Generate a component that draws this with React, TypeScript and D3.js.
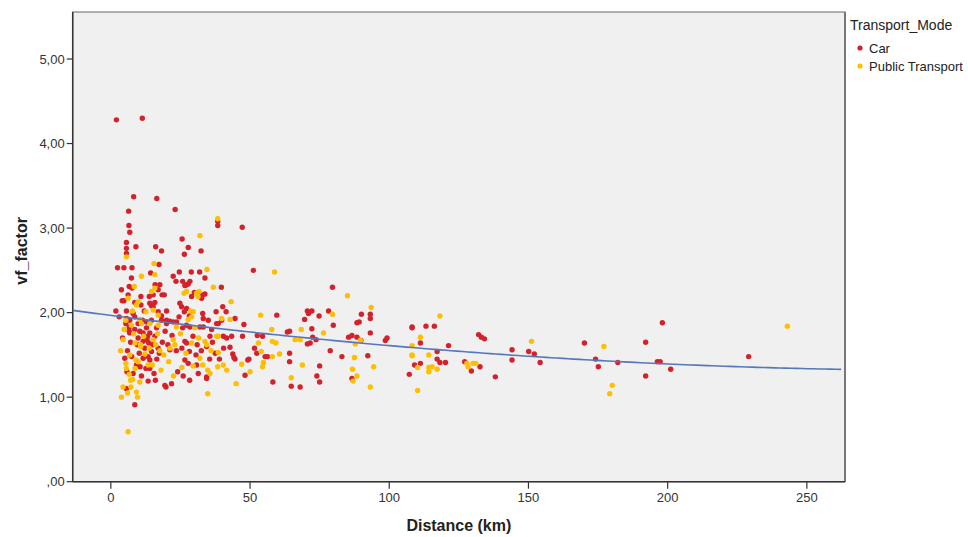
import React from "react";
import * as d3 from "d3";

// Observed trips: [distance in km, vf_factor]
const carPoints: [number, number][] = [
  [2.0, 4.28], [11.3, 4.30], [8.2, 3.37], [16.5, 3.35], [6.4, 3.20], [23.1, 3.22], [6.5, 3.03],
  [38.4, 3.08], [38.4, 3.03], [47.2, 3.01], [6.8, 2.95], [25.6, 2.87], [5.6, 2.83], [9.0, 2.78],
  [16.1, 2.78], [27.8, 2.77], [5.6, 2.76], [18.2, 2.73], [32.4, 2.73], [26.4, 2.69], [5.6, 2.70],
  [17.3, 2.57], [2.4, 2.53], [4.7, 2.53], [7.6, 2.53], [51.2, 2.50], [24.6, 2.48], [28.9, 2.48],
  [31.9, 2.48], [14.3, 2.47], [22.4, 2.43], [33.8, 2.41], [7.4, 2.41],
  [3.8, 2.27], [6.6, 2.31], [7.6, 2.29], [6.2, 2.21], [15.9, 2.33], [17.6, 2.33], [17.0, 2.27],
  [18.4, 2.21], [19.2, 2.21], [15.2, 2.21], [23.4, 2.37], [25.8, 2.37], [27.2, 2.33], [27.8, 2.34],
  [26.6, 2.32], [28.4, 2.37], [29.0, 2.19], [33.0, 2.21], [33.8, 2.22], [30.0, 2.24], [32.6, 2.17],
  [39.7, 2.30], [4.1, 2.14], [4.7, 2.14], [10.8, 2.19], [13.8, 2.19], [8.6, 2.12], [10.8, 2.09],
  [14.0, 2.11], [14.6, 2.08], [15.8, 2.12], [15.2, 2.07], [24.8, 2.11], [25.4, 2.07], [27.2, 2.05],
  [26.4, 2.01], [1.8, 2.02], [5.6, 2.02], [8.0, 1.99], [12.0, 2.02], [17.0, 2.01], [20.0, 2.02],
  [18.2, 1.96], [28.2, 1.96], [33.0, 1.99], [33.2, 1.93], [37.8, 2.01], [41.4, 2.01], [40.2, 2.07],
  [38.0, 1.87], [38.6, 1.87], [39.8, 1.91], [5.6, 1.93], [6.8, 1.91], [8.6, 1.95], [5.4, 1.87],
  [9.8, 1.87], [11.4, 1.91], [14.6, 1.91], [12.8, 1.89], [18.2, 1.91], [20.0, 1.91], [21.2, 1.90],
  [22.4, 1.89], [23.6, 1.89],
  [6.6, 1.83], [8.6, 1.80], [10.4, 1.78], [12.8, 1.82], [6.8, 1.76], [11.6, 1.76], [14.0, 1.76],
  [15.8, 1.72], [16.4, 1.82], [20.0, 1.87], [25.8, 1.82], [27.2, 1.85], [28.4, 1.83], [32.0, 1.83],
  [33.2, 1.83], [35.0, 1.91], [36.2, 1.80],
  [6.6, 1.78], [7.1, 1.65], [9.8, 1.70], [11.6, 1.66], [13.0, 1.68], [13.6, 1.64], [17.0, 1.58],
  [5.0, 1.46], [5.8, 1.30], [8.0, 1.28], [9.2, 1.38], [10.2, 1.52], [11.6, 1.46], [13.4, 1.48],
  [14.0, 1.44], [14.6, 1.54], [12.6, 1.34], [14.0, 1.34], [15.5, 1.28], [13.4, 1.19], [5.6, 1.10],
  [8.6, 0.91], [19.8, 1.12], [21.8, 1.16], [21.2, 1.56], [17.4, 1.52],
  [26.6, 1.66], [27.2, 1.64], [28.2, 1.54], [26.6, 1.44], [27.8, 1.40], [30.8, 1.38], [31.4, 1.28],
  [28.3, 1.20], [30.6, 1.50], [34.4, 1.24], [34.4, 1.22], [34.4, 1.60], [35.6, 1.72], [40.4, 1.72],
  [41.6, 1.70],
  [3.0, 1.95], [4.2, 1.70], [6.0, 1.55], [7.5, 1.48], [9.5, 1.62], [10.5, 1.36], [12.2, 1.58],
  [13.2, 1.72], [15.0, 1.62], [16.5, 1.45], [18.5, 1.65], [19.5, 1.78], [20.5, 1.62], [22.0, 1.73],
  [23.5, 1.55], [24.5, 1.95], [25.5, 1.58], [29.5, 1.72], [31.0, 1.62], [32.5, 1.55], [35.5, 1.45],
  [36.5, 1.65], [37.5, 1.52], [39.0, 1.45], [40.5, 1.58], [19.4, 1.14], [24.0, 1.30], [26.0, 1.25],
  [16.0, 1.20], [11.0, 1.25],
  [79.6, 2.30], [70.6, 2.02], [72.2, 2.02], [71.0, 1.99], [69.6, 1.92], [78.2, 2.02], [74.8, 1.96],
  [59.6, 1.97], [44.6, 1.93], [90.0, 1.98], [93.2, 1.98], [93.2, 1.93], [79.9, 1.85], [88.4, 1.88],
  [89.2, 1.89], [47.8, 1.86], [64.2, 1.78], [63.4, 1.77], [72.2, 1.81], [93.2, 1.76], [108.2, 1.83],
  [108.2, 1.82], [43.4, 1.72], [47.3, 1.72], [52.6, 1.73], [54.5, 1.72], [72.5, 1.71], [73.7, 1.68],
  [70.6, 1.63], [71.6, 1.64], [85.4, 1.71], [86.6, 1.73], [88.4, 1.71], [89.8, 1.67], [98.6, 1.67],
  [99.2, 1.70], [42.8, 1.59], [44.2, 1.47], [44.6, 1.45], [43.8, 1.51], [49.2, 1.44], [49.6, 1.45],
  [48.2, 1.26], [51.6, 1.58], [52.4, 1.52], [55.4, 1.48], [56.3, 1.48], [58.2, 1.18], [64.2, 1.52],
  [64.2, 1.42], [64.8, 1.13], [68.0, 1.12], [78.8, 1.55], [83.0, 1.48], [92.3, 1.49], [75.0, 1.37],
  [74.0, 1.25], [75.0, 1.18], [86.6, 1.22], [107.2, 1.27], [109.1, 1.38],
  [113.2, 1.84], [116.2, 1.84], [111.2, 1.64], [132.1, 1.74], [133.1, 1.71], [134.2, 1.69],
  [121.3, 1.61], [170.1, 1.64], [144.1, 1.56], [150.1, 1.54], [152.1, 1.51], [174.1, 1.45],
  [182.1, 1.41], [117.2, 1.54], [117.2, 1.45], [118.2, 1.41], [120.2, 1.41], [111.2, 1.40],
  [127.1, 1.42], [129.5, 1.31], [132.6, 1.36], [144.1, 1.44], [154.2, 1.41], [138.1, 1.24],
  [175.1, 1.36],
  [198.1, 1.88], [192.1, 1.65], [196.3, 1.42], [197.3, 1.42], [201.1, 1.33], [192.1, 1.25],
  [229.1, 1.48],
];

const publicTransportPoints: [number, number][] = [
  [38.4, 3.11], [32.0, 2.91], [5.6, 2.66], [15.5, 2.58], [34.5, 2.51], [15.8, 2.45], [11.0, 2.43],
  [8.4, 2.31], [15.8, 2.29], [14.6, 2.25], [26.3, 2.23], [27.2, 2.25], [31.7, 2.25], [31.3, 2.19],
  [30.8, 2.23], [36.8, 2.30], [6.2, 2.17], [9.8, 2.13], [9.2, 2.09], [7.8, 2.02], [12.6, 2.01],
  [15.2, 2.03], [17.0, 1.97], [10.4, 1.92], [27.8, 1.92], [28.7, 2.02], [29.6, 2.01], [29.0, 1.95],
  [42.8, 1.92], [39.8, 1.93], [4.8, 1.80], [5.4, 1.91], [7.4, 1.85], [11.0, 1.87], [14.0, 1.87],
  [17.0, 1.85], [23.6, 1.83],
  [4.4, 1.68], [8.7, 1.64], [10.7, 1.62], [15.2, 1.68], [16.1, 1.62], [17.6, 1.55], [5.4, 1.40],
  [5.6, 1.34], [6.6, 1.27], [7.1, 1.20], [7.8, 1.21], [8.7, 1.34], [9.0, 1.44], [9.8, 1.42],
  [10.7, 1.60], [12.2, 1.51], [13.4, 1.38], [14.9, 1.38], [10.4, 1.18], [4.4, 1.12], [3.8, 1.00],
  [9.2, 1.06], [9.6, 1.00], [6.2, 0.59], [21.2, 1.58], [22.4, 1.68],
  [29.0, 1.64], [32.0, 1.46], [29.6, 1.37], [34.8, 1.32], [35.6, 1.28], [34.8, 1.04], [33.8, 1.66],
  [34.4, 1.62], [38.0, 1.72], [38.6, 1.72], [38.6, 1.53], [38.4, 1.36], [40.4, 1.38], [41.6, 1.32],
  [3.5, 1.55], [6.8, 1.50], [8.2, 1.75], [11.8, 1.72], [13.8, 1.58], [16.8, 1.75], [19.0, 1.50],
  [20.8, 1.42], [23.0, 1.62], [25.0, 1.75], [27.0, 1.52], [30.2, 1.82], [31.5, 1.70], [33.0, 1.38],
  [36.0, 1.55], [6.0, 1.05], [7.2, 1.12], [22.5, 1.25], [25.5, 1.35], [18.0, 1.32],
  [58.8, 2.48], [85.0, 2.20], [43.2, 2.13], [93.5, 2.06], [79.6, 1.98], [53.8, 1.97], [57.8, 1.80],
  [68.4, 1.80], [76.4, 1.76], [53.0, 1.64], [58.0, 1.66], [59.3, 1.64], [66.2, 1.68], [68.0, 1.68],
  [87.8, 1.63], [89.6, 1.67], [108.2, 1.61], [54.0, 1.54], [54.8, 1.41], [54.5, 1.36], [50.0, 1.30],
  [47.0, 1.39], [45.0, 1.16], [58.0, 1.48], [60.6, 1.51], [64.8, 1.23], [68.8, 1.38], [87.5, 1.47],
  [94.4, 1.36], [86.8, 1.33], [88.4, 1.25], [87.0, 1.19], [93.2, 1.12], [108.2, 1.50], [108.2, 1.49],
  [110.2, 1.35], [110.2, 1.08],
  [118.2, 1.96], [111.2, 1.71], [151.1, 1.66], [177.1, 1.60], [114.2, 1.50], [114.2, 1.35],
  [115.4, 1.36], [117.2, 1.33], [114.2, 1.30], [127.9, 1.40], [128.3, 1.36], [130.1, 1.40],
  [131.1, 1.40], [180.1, 1.14], [179.2, 1.04],
  [243.0, 1.84],
];

// Quadratic fit line: vf = a + b*d + c*d^2
const FIT_A = 1.967;
const FIT_B = -0.00427;
const FIT_C = 0.000007;

const xTicks = [0, 50, 100, 150, 200, 250];
const yTicks = [0, 1, 2, 3, 4, 5];

const legendTitle = "Transport_Mode";
const legendItems = ["Car", "Public Transport"];

const CAR_COLOR = "#d3222c";
const PT_COLOR = "#ffbe00";
const FIT_COLOR = "#5577bb";

const W = 968;
const H = 537;
const plot = { left: 72.7, right: 845, top: 12, bottom: 481.7 };

export default function App() {
  const x = d3.scaleLinear().domain([-13.7, 263.7]).range([plot.left, plot.right]);
  const y = d3.scaleLinear().domain([0, 5.556]).range([plot.bottom, plot.top]);

  const fitSamples = d3.range(-13.7, 263.71, 2).map((d) => [d, FIT_A + FIT_B * d + FIT_C * d * d] as [number, number]);
  const fitPath = d3
    .line<[number, number]>()
    .x((d) => x(d[0]))
    .y((d) => y(d[1]))(fitSamples) as string;

  const fmtY = (v: number) => (v === 0 ? ",00" : d3.format(".2f")(v).replace(".", ","));
  const font = "'Liberation Sans', Arial, sans-serif";

  return (
    <svg width={W} height={H} style={{ position: "absolute", left: 0, top: 0, fontFamily: font }}>
      <rect x={0} y={0} width={W} height={H} fill="#ffffff" />
      <rect
        x={plot.left}
        y={plot.top}
        width={plot.right - plot.left}
        height={plot.bottom - plot.top}
        fill="#f0f0f0"
        stroke="#666"
        strokeWidth={1}
      />
      <line x1={plot.right} x2={plot.right} y1={plot.top} y2={plot.bottom} stroke="#777" strokeWidth={2} />
      {/* axis lines */}
      <line x1={plot.left} x2={plot.left} y1={plot.top} y2={plot.bottom} stroke="#333" strokeWidth={1.5} />
      <line x1={plot.left} x2={plot.right} y1={plot.bottom} y2={plot.bottom} stroke="#333" strokeWidth={1.5} />

      {yTicks.map((t) => (
        <g key={"y" + t}>
          <line x1={plot.left - 6} x2={plot.left} y1={y(t)} y2={y(t)} stroke="#333" strokeWidth={1.2} />
          <text x={plot.left - 8} y={y(t)} dy="0.35em" textAnchor="end" fontSize={13} fill="#333">
            {fmtY(t)}
          </text>
        </g>
      ))}
      {xTicks.map((t) => (
        <g key={"x" + t}>
          <line x1={x(t)} x2={x(t)} y1={plot.bottom} y2={plot.bottom + 7} stroke="#333" strokeWidth={1.2} />
          <text x={x(t)} y={plot.bottom + 20} textAnchor="middle" fontSize={13} fill="#333">
            {t}
          </text>
        </g>
      ))}

      <text
        transform={`translate(27, ${(plot.top + plot.bottom) / 2 + 4}) rotate(-90)`}
        textAnchor="middle"
        fontSize={16}
        fontWeight="bold"
        fill="#222"
      >
        vf_factor
      </text>
      <text x={(plot.left + plot.right) / 2} y={531} textAnchor="middle" fontSize={16} fontWeight="bold" fill="#222">
        Distance (km)
      </text>

      <g clipPath="url(#plotClip)">
        <defs>
          <clipPath id="plotClip">
            <rect x={plot.left} y={plot.top} width={plot.right - plot.left} height={plot.bottom - plot.top} />
          </clipPath>
        </defs>
        {carPoints.map((p, i) => (
          <circle key={"c" + i} cx={x(p[0])} cy={y(p[1])} r={2.7} fill={CAR_COLOR} />
        ))}
        {publicTransportPoints.map((p, i) => (
          <circle key={"p" + i} cx={x(p[0])} cy={y(p[1])} r={2.7} fill={PT_COLOR} />
        ))}
        <path d={fitPath} fill="none" stroke={FIT_COLOR} strokeWidth={1.6} />
      </g>

      {/* legend */}
      <text x={850} y={30} fontSize={14} fill="#222">
        {legendTitle}
      </text>
      {legendItems.map((name, i) => (
        <g key={name}>
          <circle cx={860} cy={48 + i * 18} r={2.6} fill={i === 0 ? CAR_COLOR : PT_COLOR} />
          <text x={869} y={48 + i * 18} dy="0.35em" fontSize={13} fill="#222">
            {name}
          </text>
        </g>
      ))}
    </svg>
  );
}
